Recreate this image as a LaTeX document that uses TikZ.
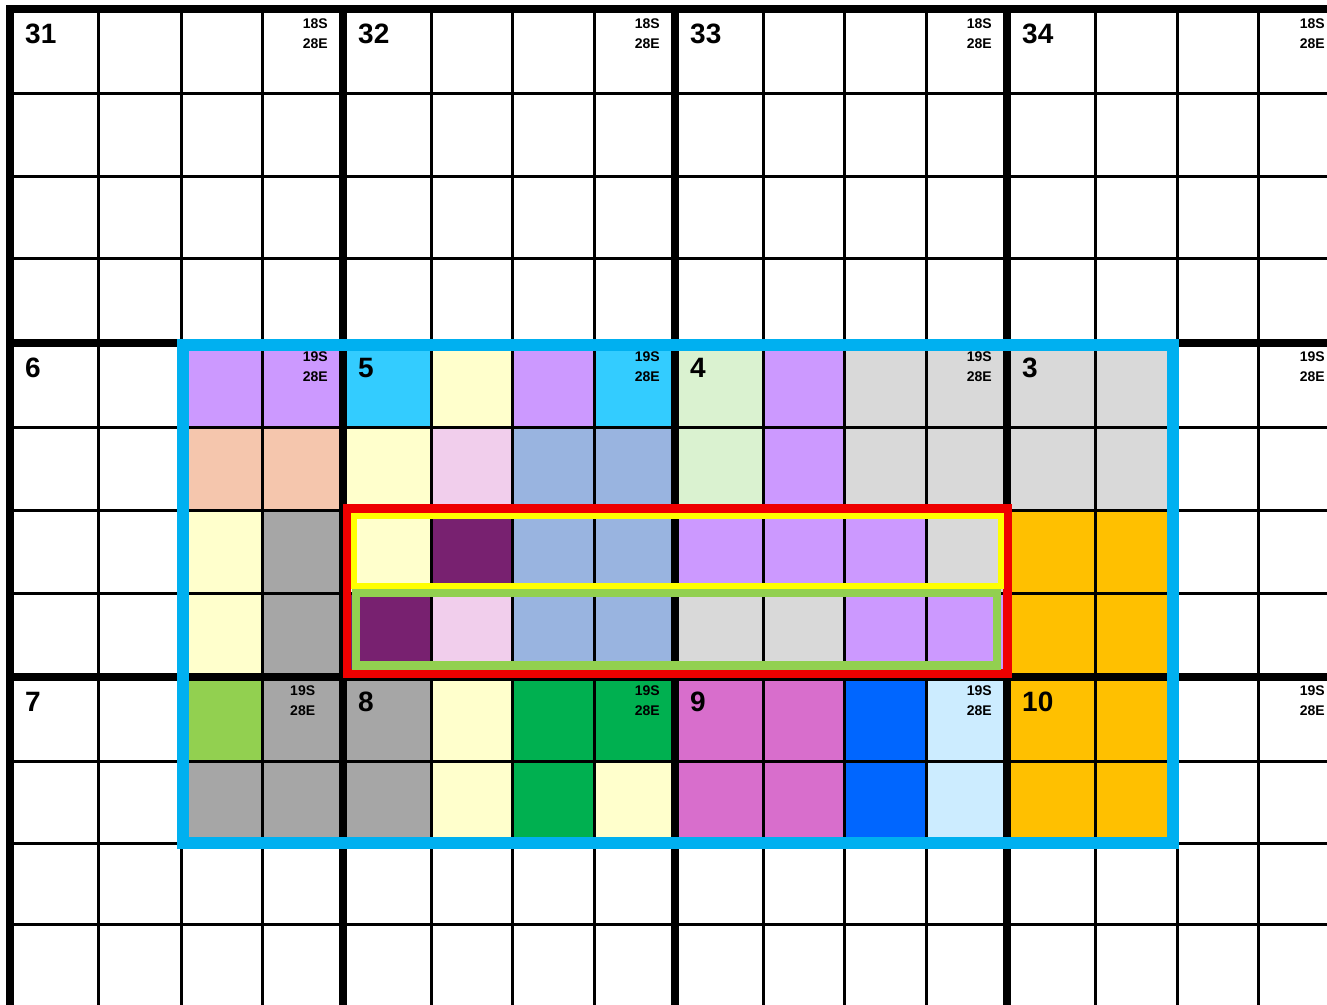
\documentclass[tikz,border=0pt]{standalone}
\usepackage{fontspec}
\setmainfont{Liberation Sans}
\definecolor{lav}{HTML}{CC99FF}
\definecolor{cyn}{HTML}{33CCFF}
\definecolor{ly}{HTML}{FFFFCC}
\definecolor{lgr}{HTML}{DAF2D0}
\definecolor{lg}{HTML}{D9D9D9}
\definecolor{pch}{HTML}{F5C6AD}
\definecolor{pnk}{HTML}{F1CEEC}
\definecolor{bl}{HTML}{99B4E0}
\definecolor{dpu}{HTML}{782170}
\definecolor{gry}{HTML}{A6A6A6}
\definecolor{org}{HTML}{FFC000}
\definecolor{gnA}{HTML}{92D050}
\definecolor{gnB}{HTML}{00B050}
\definecolor{mag}{HTML}{D86ECC}
\definecolor{bbl}{HTML}{0066FF}
\definecolor{lbl}{HTML}{CCECFF}
\definecolor{frameblue}{HTML}{00B0F0}
\definecolor{framered}{HTML}{EE0000}
\definecolor{frameyellow}{HTML}{FFFF00}
\definecolor{framegreen}{HTML}{92D050}
\def\XS{{10,98,181,262.5,343,431,512.5,594,675,763,844,926,1007,1095.5,1177,1258.5,1340}}
\def\YS{{9,93.5,176,258.5,342.7,427.3,510.5,593,676.7,761.5,843.5,924,1010}}
\newcommand\cellfill[3]{%
  \pgfmathsetmacro\myxl{\XS[#1]}\pgfmathsetmacro\myxr{\XS[#1+1]}%
  \pgfmathsetmacro\myyt{\YS[#2]}\pgfmathsetmacro\myyb{\YS[#2+1]}%
  \fill[#3] (\myxl,\myyt) rectangle (\myxr,\myyb);}
\newcommand\bignum[4]{%
  \pgfmathsetmacro\mytx{\XS[#2]+15}\pgfmathsetmacro\myty{\YS[#3]+34.5}%
  \node[bignumstyle] (#1) at (\mytx,\myty) {#4};}
\newcommand\coordlbl[4]{%
  \pgfmathsetmacro\mytx{\XS[#2+1]-15}\pgfmathsetmacro\myty{\YS[#3]+19}%
  \pgfmathsetmacro\mytz{\YS[#3]+39}%
  \node[smallstyle] (#1a) at (\mytx,\myty) {#4S};
  \node[smallstyle] (#1b) at (\mytx,\mytz) {28E};}
\begin{document}
\begin{tikzpicture}[x=1pt,y=-1pt,
  bignumstyle/.style={anchor=base west,inner sep=0pt,font=\bfseries\fontsize{28}{28}\selectfont},
  smallstyle/.style={anchor=base east,inner sep=0pt,font=\bfseries\fontsize{14}{14}\selectfont},
  thingrid/.style={line width=3pt,black},
  thickgrid/.style={line width=8pt,black},
  framebox/.style={line join=miter}]
\useasboundingbox (0,0) rectangle (1327,1004);
\clip (0,0) rectangle (1327,1004);
\fill[white] (0,0) rectangle (1327,1004);
% cell fills
\foreach \c [count=\i from 2] in {lav,lav,cyn,ly,lav,cyn,lgr,lav,lg,lg,lg,lg} {\cellfill{\i}{4}{\c}}
\foreach \c [count=\i from 2] in {pch,pch,ly,pnk,bl,bl,lgr,lav,lg,lg,lg,lg} {\cellfill{\i}{5}{\c}}
\foreach \c [count=\i from 2] in {ly,gry,ly,dpu,bl,bl,lav,lav,lav,lg,org,org} {\cellfill{\i}{6}{\c}}
\foreach \c [count=\i from 2] in {ly,gry,dpu,pnk,bl,bl,lg,lg,lav,lav,org,org} {\cellfill{\i}{7}{\c}}
\foreach \c [count=\i from 2] in {gnA,gry,gry,ly,gnB,gnB,mag,mag,bbl,lbl,org,org} {\cellfill{\i}{8}{\c}}
\foreach \c [count=\i from 2] in {gry,gry,gry,ly,gnB,ly,mag,mag,bbl,lbl,org,org} {\cellfill{\i}{9}{\c}}
% thin grid lines
\foreach \i in {1,2,3,5,6,7,9,10,11,13,14,15} {
  \pgfmathsetmacro\myxx{\XS[\i]}
  \draw[thingrid] (\myxx,9) -- (\myxx,1010);}
\foreach \j in {1,2,3,5,6,7,9,10,11} {
  \pgfmathsetmacro\myyy{\YS[\j]}
  \draw[thingrid] (10,\myyy) -- (1330,\myyy);}
% thick grid lines
\foreach \i in {0,4,8,12} {
  \pgfmathsetmacro\myxx{\XS[\i]}
  \draw[thickgrid] (\myxx,5) -- (\myxx,1010);}
\foreach \j in {0,4,8} {
  \pgfmathsetmacro\myyy{\YS[\j]}
  \draw[thickgrid] (6,\myyy) -- (1330,\myyy);}
% frames
\draw[framebox,frameblue,line width=12pt] (183.2,344.7) rectangle (1173.3,843.3);
\draw[framebox,framered,line width=8.5pt] (347,508.3) rectangle (1007.3,673.3);
\draw[framebox,frameyellow,line width=5.5pt] (353.8,516) rectangle (1001,586);
\draw[framebox,framegreen,line width=8.3pt] (355.8,593) rectangle (996.8,665.5);
% big numbers
\bignum{n31}{0}{0}{31}
\bignum{n32}{4}{0}{32}
\bignum{n33}{8}{0}{33}
\bignum{n34}{12}{0}{34}
\bignum{n6}{0}{4}{6}
\bignum{n5}{4}{4}{5}
\bignum{n4}{8}{4}{4}
\bignum{n3}{12}{4}{3}
\bignum{n7}{0}{8}{7}
\bignum{n8}{4}{8}{8}
\bignum{n9}{8}{8}{9}
\bignum{n10}{12}{8}{10}
% coordinate labels
\coordlbl{la}{3}{0}{18}
\coordlbl{lb}{7}{0}{18}
\coordlbl{lc}{11}{0}{18}
\coordlbl{ld}{15}{0}{18}
\coordlbl{le}{3}{4}{19}
\coordlbl{lf}{7}{4}{19}
\coordlbl{lg}{11}{4}{19}
\coordlbl{lh}{15}{4}{19}
\node[smallstyle,anchor=base] (lia) at (302.7,695.7) {19S};
\node[smallstyle,anchor=base] (lib) at (302.7,715.7) {28E};
\coordlbl{lj}{7}{8}{19}
\coordlbl{lk}{11}{8}{19}
\coordlbl{ll}{15}{8}{19}
\end{tikzpicture}
\end{document}
